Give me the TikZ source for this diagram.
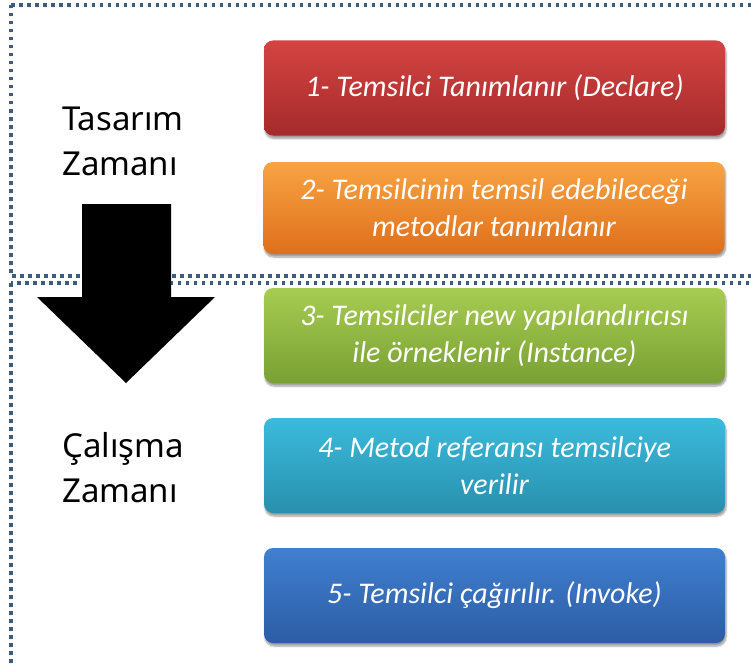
\documentclass[tikz,border=0pt]{standalone}
\usepackage{fontspec}
\setmainfont{Carlito}
\newfontfamily\phasefont{Noto Sans}
\usetikzlibrary{shadows.blur}
\definecolor{FrameBlue}{HTML}{3B5B85}
\definecolor{DeclareTop}{HTML}{D44442}
\definecolor{DeclareBot}{HTML}{A52A2B}
\definecolor{MethodTop}{HTML}{F8A443}
\definecolor{MethodBot}{HTML}{DF6F1B}
\definecolor{InstTop}{HTML}{A8CC52}
\definecolor{InstBot}{HTML}{78A033}
\definecolor{RefTop}{HTML}{3BBBDB}
\definecolor{RefBot}{HTML}{298FAE}
\definecolor{InvokeTop}{HTML}{4080D0}
\definecolor{InvokeBot}{HTML}{2C5CA4}

\begin{document}
\begin{tikzpicture}[x=1pt,y=-1pt,
  frame/.style={FrameBlue,line width=3.5pt,dash pattern=on 3.5pt off 4.5pt},
  stepbox/.style={rounded corners=9pt,minimum width=461pt,minimum height=95pt,
    inner sep=0pt,text=white,align=center,
    font=\fontsize{30}{37}\selectfont\itshape,
    blur shadow={shadow xshift=1pt,shadow yshift=-3pt,shadow opacity=40,shadow blur steps=6}},
  phase/.style={font=\phasefont\fontsize{33}{45}\selectfont,align=left,
    anchor=base west,inner sep=0pt}]
  \useasboundingbox (0,0) rectangle (751,666);
  \draw[frame] (11,5) rectangle (770,276);
  \draw[frame] (11,283) rectangle (770,669);
  \fill (82,204) -- (171,204) -- (171,297) -- (215,297) -- (126,383)
    -- (37,297) -- (82,297) -- cycle;
  \node[phase] (design) at (62,175) {Tasarım\\Zamanı};
  \node[phase] (run) at (62,502) {Çalışma\\Zamanı};
  \node[stepbox,top color=DeclareTop,bottom color=DeclareBot] (declare)
    at (494.5,88) {1- Temsilci Tanımlanır (Declare)};
  \node[stepbox,top color=MethodTop,bottom color=MethodBot,minimum height=92pt] (method)
    at (494,208) {2- Temsilcinin temsil edebileceği\\metodlar tanımlanır};
  \node[stepbox,top color=InstTop,bottom color=InstBot] (instance)
    at (494.5,335.5) {3- Temsilciler new yapılandırıcısı\\ile örneklenir (Instance)};
  \node[stepbox,top color=RefTop,bottom color=RefBot] (reference)
    at (494.5,465.5) {4- Metod referansı temsilciye\\verilir};
  \node[stepbox,top color=InvokeTop,bottom color=InvokeBot] (invoke)
    at (494.5,595.5) {5- Temsilci çağırılır. (Invoke)};
\end{tikzpicture}
\end{document}
